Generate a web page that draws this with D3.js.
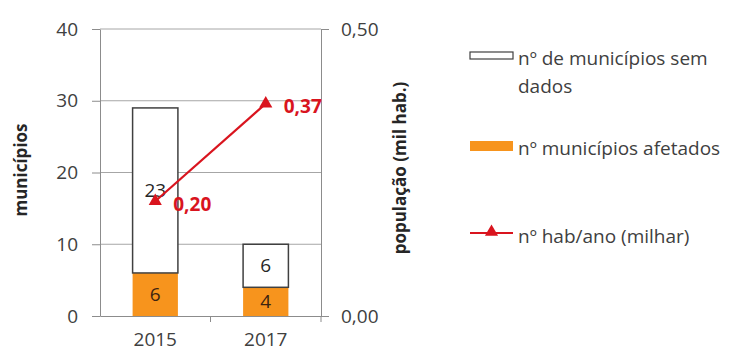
<!DOCTYPE html>
<html>
<head>
<meta charset="utf-8">
<script src="https://cdn.jsdelivr.net/npm/d3@7"></script>
<style>
  body { margin: 0; background: white; }
  svg text { font-family: "Open Sans", Lato, sans-serif; }
</style>
</head>
<body>
<div id="chart"></div>
<script>
// data
var years = ['2015', '2017']
var afetados = [6, 4]
var semDados = [23, 6]
var habAno = [0.20, 0.37]
var leftTicks = [0, 10, 20, 30, 40]
var rightTicks = [0, 0.5]

var width = 729, height = 354,
    margin = { top: 29, right: 408, bottom: 38, left: 100 };

var svg = d3.select('#chart')
    .append('svg')
    .attr('width', width)
    .attr('height', height);

var plotW = width - margin.left - margin.right,
    plotH = height - margin.top - margin.bottom;

var g = svg.append('g')
    .attr('transform', `translate(${margin.left},${margin.top})`);

var x = d3.scaleBand().domain(years).range([0, plotW]).padding(0);
var y = d3.scaleLinear().domain([0, 40]).range([plotH, 0]);
var y2 = d3.scaleLinear().domain([0, 0.5]).range([plotH, 0]);
var barW = x.bandwidth() * 0.41;

var axisColor = '#8c8c8c';
var fontSize = '19px';

// gridlines
g.selectAll('.grid')
    .data(leftTicks.slice(1))
    .enter().append('line')
    .attr('class', 'grid')
    .attr('x1', 0).attr('x2', plotW)
    .attr('y1', d => y(d)).attr('y2', d => y(d))
    .style('stroke', '#a6a6a6')
    .style('stroke-width', 1);

var rows = years.map((yr, i) => ({ year: yr, afetados: afetados[i], semDados: semDados[i], hab: habAno[i] }));

/* orange bars */
g.selectAll('.bar.afetados')
    .data(rows)
    .enter().append('rect')
    .attr('class', 'bar afetados')
    .attr('x', d => x(d.year) + (x.bandwidth() - barW) / 2)
    .attr('y', d => y(d.afetados))
    .attr('width', barW)
    .attr('height', d => y(0) - y(d.afetados))
    .style('fill', '#f7941d');

/* white bars */
g.selectAll('.bar.sem')
    .data(rows)
    .enter().append('rect')
    .attr('class', 'bar sem')
    .attr('x', d => x(d.year) + (x.bandwidth() - barW) / 2)
    .attr('y', d => y(d.afetados + d.semDados))
    .attr('width', barW)
    .attr('height', d => y(d.afetados) - y(d.afetados + d.semDados))
    .style('fill', 'white')
    .style('stroke', '#404040')
    .style('stroke-width', 1.5);

// bar labels
g.selectAll('.lbl-af')
    .data(rows)
    .enter().append('text')
    .attr('x', d => x(d.year) + x.bandwidth() / 2)
    .attr('y', d => y(d.afetados / 2))
    .attr('dy', '0.35em')
    .attr('text-anchor', 'middle')
    .style('font-size', fontSize)
    .style('fill', '#3d2410')
    .text(d => d.afetados);

g.selectAll('.lbl-sem')
    .data(rows)
    .enter().append('text')
    .attr('x', d => x(d.year) + x.bandwidth() / 2)
    .attr('y', d => y(d.afetados + d.semDados / 2))
    .attr('dy', '0.35em')
    .attr('text-anchor', 'middle')
    .style('font-size', fontSize)
    .style('fill', '#262626')
    .text(d => d.semDados);

// axes
var yAxis = d3.axisLeft(y).tickValues(leftTicks).tickSize(8).tickSizeOuter(0);
var yAxisR = d3.axisRight(y2).tickValues(rightTicks).tickSize(8).tickSizeOuter(0)
    .tickFormat(d => d3.format('.2f')(d).replace('.', ','));
var xAxis = d3.axisBottom(x).tickSize(0).tickSizeOuter(0);

var styleAxis = sel => {
    sel.select('.domain').style('stroke', axisColor);
    sel.selectAll('.tick line').style('stroke', axisColor);
    sel.selectAll('.tick text').style('font-size', fontSize).style('fill', '#404040')
        .style('font-family', '"Open Sans", sans-serif');
}

g.append('g').attr('class', 'y-axis').call(yAxis).call(styleAxis)
    .selectAll('.tick text').attr('x', -22);

g.append('g').attr('class', 'y-axis-r')
    .attr('transform', `translate(${plotW},0)`)
    .call(yAxisR).call(styleAxis)
    .selectAll('.tick text').attr('x', 20);

g.append('g').attr('class', 'x-axis')
    .attr('transform', `translate(0,${plotH})`)
    .call(xAxis).call(styleAxis)
    .selectAll('.tick text').attr('y', 17);

// small separator ticks on the x axis
g.selectAll('.xsep')
    .data(years.slice(1).map(d => x(d)).concat([plotW]))
    .enter().append('line')
    .attr('x1', d => d).attr('x2', d => d)
    .attr('y1', plotH).attr('y2', plotH + 6)
    .style('stroke', axisColor);

// axis titles
svg.append('text')
    .attr('transform', 'translate(27,170) rotate(-90)')
    .attr('text-anchor', 'middle')
    .style('font-size', '17px')
    .style('font-weight', 'bold')
    .style('fill', '#262626')
    .text('municípios');

svg.append('text')
    .attr('transform', 'translate(406,168) rotate(-90)')
    .attr('text-anchor', 'middle')
    .style('font-size', '17px')
    .style('font-weight', 'bold')
    .style('fill', '#262626')
    .text('população (mil hab.)');

// line series
var red = '#d9141e';
var line = d3.line()
    .x(d => x(d.year) + x.bandwidth() / 2)
    .y(d => y2(d.hab));

g.append('path')
    .datum(rows)
    .attr('d', line)
    .style('fill', 'none')
    .style('stroke', red)
    .style('stroke-width', 2.2);

var tri = d3.symbol().type(d3.symbolTriangle).size(75);
g.selectAll('.pt')
    .data(rows)
    .enter().append('path')
    .attr('transform', d => `translate(${x(d.year) + x.bandwidth() / 2},${y2(d.hab)})`)
    .attr('d', tri)
    .style('fill', red);

g.selectAll('.lbl-hab')
    .data(rows)
    .enter().append('text')
    .attr('x', d => x(d.year) + x.bandwidth() / 2 + 18)
    .attr('y', d => y2(d.hab) + 3)
    .attr('dy', '0.35em')
    .style('font-size', fontSize)
    .style('font-weight', 'bold')
    .style('fill', red)
    .text(d => d3.format('.2f')(d.hab).replace('.', ','));

// legend
var leg = svg.append('g').attr('transform', 'translate(470,0)');
var legStyle = sel => sel.style('font-size', fontSize).style('fill', '#404040');

leg.append('rect')
    .attr('x', 0).attr('y', 52).attr('width', 43).attr('height', 7)
    .style('fill', 'white').style('stroke', '#404040').style('stroke-width', 1.2);
leg.append('text')
    .attr('x', 48).attr('y', 65)
    .call(legStyle)
    .text('nº de municípios sem');
leg.append('text')
    .attr('x', 48).attr('y', 93)
    .call(legStyle)
    .text('dados');

leg.append('rect')
    .attr('x', 0).attr('y', 141).attr('width', 43).attr('height', 10)
    .style('fill', '#f7941d');
leg.append('text')
    .attr('x', 48).attr('y', 155)
    .call(legStyle)
    .text('nº municípios afetados');

leg.append('line')
    .attr('x1', 0).attr('x2', 43).attr('y1', 233).attr('y2', 233)
    .style('stroke', red).style('stroke-width', 2.2);
leg.append('path')
    .attr('transform', 'translate(21.5,232)')
    .attr('d', tri)
    .style('fill', red);
leg.append('text')
    .attr('x', 48).attr('y', 243)
    .call(legStyle)
    .text('nº hab/ano (milhar)');
</script>
</body>
</html>
